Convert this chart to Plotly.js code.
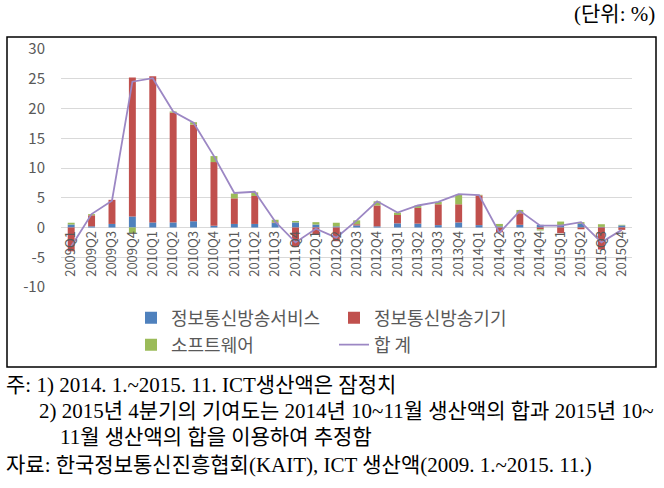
<!DOCTYPE html>
<html>
<head>
<meta charset="utf-8">
<script src="https://cdn.plot.ly/plotly-3.0.1.min.js"></script>
<style>
  html, body { margin: 0; padding: 0; background: #ffffff; }
  #chart { width: 664px; height: 488px; }
</style>
</head>
<body>
<div id="chart"></div>
<script>
const quarters = [
  "2009Q1", "2009Q2", "2009Q3", "2009Q4",
  "2010Q1", "2010Q2", "2010Q3", "2010Q4",
  "2011Q1", "2011Q2", "2011Q3", "2011Q4",
  "2012Q1", "2012Q2", "2012Q3", "2012Q4",
  "2013Q1", "2013Q2", "2013Q3", "2013Q4",
  "2014Q1", "2014Q2", "2014Q3", "2014Q4",
  "2015Q1", "2015Q2", "2015Q3", "2015Q4",
];

// 정보통신방송서비스
const serviceValues = [
  0.5, 0.2, 0.6, 1.85,
  0.85, 0.85, 1.05, 0.3,
  0.6, 0.6, 0.75, 0.85,
  0.5, 0.2, 0.35, 0.2,
  0.7, 0.65, 0.4, 0.85,
  0.4, 0.2, 0.45, 0.45,
  0.3, 0.6, 0.1, 0.35,
];

// 정보통신방송기기
const deviceValues = [
  -4.0, 1.85, 4.05, 23.35,
  24.55, 18.45, 16.25, 10.7,
  4.3, 4.7, 0.1, -3.3,
  -1.1, -2.3, 0.2, 3.5,
  1.4, 2.65, 3.5, 3.05,
  5.0, -0.8, 1.95, -0.3,
  -0.95, -0.3, -3.7, -0.4,
];

// 소프트웨어
const softwareValues = [
  0.3, 0.2, 0.0, -0.95,
  0.0, 0.2, 0.4, 1.0,
  0.8, 0.6, 0.45, 0.25,
  0.4, 0.6, 0.65, 0.7,
  0.4, 0.4, 0.4, 1.6,
  0.1, 0.4, 0.55, -0.2,
  0.7, 0.3, 0.45, 0.1,
];

// 합 계
const totalValues = [
  -3.2, 2.25, 4.5, 24.5,
  25.1, 19.5, 17.6, 12.0,
  5.8, 6.0, 1.0, -2.5,
  -0.2, -1.7, 1.2, 4.4,
  2.5, 3.7, 4.3, 5.6,
  5.45, -0.9, 2.8, 0.3,
  0.3, 0.9, -2.5, -0.4,
];

const yTicks = [-10, -5, 0, 5, 10, 15, 20, 25, 30];
const yTickLabels = ["-10", "-5", "0", "5", "10", "15", "20", "25", "30"];

const unitLabel = "(단위: %)";
const noteLines = [
  "주: 1) 2014. 1.~2015. 11. ICT생산액은 잠정치",
  "2) 2015년 4분기의 기여도는 2014년 10~11월 생산액의 합과 2015년 10~",
  "11월 생산액의 합을 이용하여 추정함",
  "자료: 한국정보통신진흥협회(KAIT), ICT 생산액(2009. 1.~2015. 11.)",
];


const W = 664;
const H = 488;
const margin = { l: 61, r: 32, t: 49, b: 201 };
const plotW = W - margin.l - margin.r;
const plotH = H - margin.t - margin.b;

// page pixel -> paper fraction, for the frame and the text round the chart
const px = (x) => (x - margin.l) / plotW;
const py = (y) => (H - margin.b - y) / plotH;

const yMin = yTicks[0];
const yMax = yTicks[yTicks.length - 1];

const sansFont = "'Noto Sans CJK KR', 'Liberation Sans', sans-serif";
const serifFont = "'Liberation Serif', 'Noto Sans CJK KR', serif";

function barTrace(name, values, color, legend) {
  return {
    type: "bar",
    name,
    x: quarters,
    y: values,
    marker: { color },
    legend,
    hoverinfo: "skip",
  };
}

const traces = [
  barTrace("정보통신방송서비스", serviceValues, "#4f81bd", "legend"),
  barTrace("정보통신방송기기", deviceValues, "#c0504d", "legend"),
  barTrace("소프트웨어", softwareValues, "#9bbb59", "legend2"),
  {
    type: "scatter",
    mode: "lines",
    name: "합 계",
    x: quarters,
    y: totalValues,
    line: { color: "#9c87c4", width: 1.8 },
    legend: "legend2",
    hoverinfo: "skip",
  },
];

const noteX = [4, 37, 58, 4];
const noteY = [385, 411, 437, 465];

const annotations = noteLines.map((text, i) => ({
  text,
  xref: "paper",
  yref: "paper",
  x: px(noteX[i]),
  y: py(noteY[i]),
  xanchor: "left",
  yanchor: "middle",
  showarrow: false,
  font: { family: serifFont, size: 21, color: "#000000" },
}));

annotations.push({
  text: unitLabel,
  xref: "paper",
  yref: "paper",
  x: px(657),
  y: py(14),
  xanchor: "right",
  yanchor: "middle",
  showarrow: false,
  font: { family: serifFont, size: 21, color: "#000000" },
});

const legendBase = {
  orientation: "h",
  xanchor: "left",
  yanchor: "middle",
  x: px(131),
  entrywidth: 158,
  entrywidthmode: "pixels",
  traceorder: "normal",
  bgcolor: "rgba(0,0,0,0)",
  font: { family: sansFont, size: 18, color: "#595959" },
};

const layout = {
  width: W,
  height: H,
  margin,
  paper_bgcolor: "#ffffff",
  plot_bgcolor: "#ffffff",
  barmode: "relative",
  bargap: 0.66,
  showlegend: true,
  xaxis: {
    type: "category",
    anchor: "free",
    position: (0 - yMin) / (yMax - yMin),
    tickangle: -90,
    tickmode: "array",
    tickvals: quarters,
    ticks: "",
    showline: false,
    showgrid: false,
    zeroline: false,
    tickfont: { family: sansFont, size: 13, color: "#595959" },
  },
  yaxis: {
    range: [yMin, yMax],
    tickmode: "array",
    tickvals: yTicks,
    ticktext: yTickLabels,
    ticks: "",
    showline: false,
    gridcolor: "#d9d9d9",
    gridwidth: 1,
    zeroline: true,
    zerolinecolor: "#d9d9d9",
    zerolinewidth: 1,
    ticklabelstandoff: 15,
    tickfont: { family: sansFont, size: 15, color: "#595959" },
  },
  legend: { ...legendBase, y: py(318) },
  legend2: { ...legendBase, y: py(345) },
  annotations,
  shapes: [
    {
      type: "rect",
      xref: "paper",
      yref: "paper",
      x0: px(7),
      x1: px(656),
      y0: py(367),
      y1: py(37),
      line: { color: "#000000", width: 1.5 },
      fillcolor: "rgba(0,0,0,0)",
      layer: "below",
    },
  ],
};

Plotly.newPlot("chart", traces, layout, { displayModeBar: false, staticPlot: true });
</script>
</body>
</html>
